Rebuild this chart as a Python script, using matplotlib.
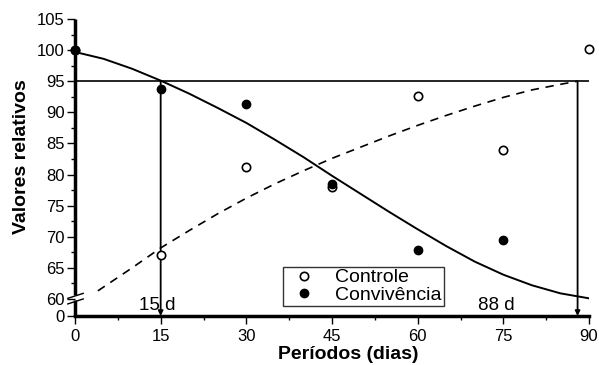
import numpy as np
import matplotlib.pyplot as plt

plt.rcParams['font.family'] = ['Liberation Sans', 'DejaVu Sans']

# observed points
dias = [0, 15, 30, 45, 60, 75, 90]
controle = [100, 67.0, 81.2, 78.0, 92.6, 84.0, 100.2]
dias_conv = [0, 15, 30, 45, 60, 75]
convivencia = [100, 93.7, 91.3, 78.4, 67.9, 69.4]

# fitted curves
x_conv = [0, 5, 10, 15, 20, 25, 30, 35, 40, 45, 50, 55, 60, 65, 70, 75, 80, 85, 90]
fit_conv = [99.7, 98.6, 97.0, 95.1, 93.0, 90.7, 88.3, 85.6, 82.8, 79.8, 76.9,
            74.0, 71.2, 68.5, 66.0, 63.9, 62.2, 60.9, 60.1]
x_ctrl = [4, 10, 15, 20, 25, 30, 35, 40, 45, 50, 55, 60, 65, 70, 75, 80, 85, 88]
fit_ctrl = [61.3, 65.0, 68.2, 71.0, 73.7, 76.2, 78.5, 80.6, 82.6, 84.4, 86.2,
            87.9, 89.5, 91.0, 92.4, 93.6, 94.5, 95.0]

limiar = 95
dias_limiar = [15, 88]
rot_limiar = ['15 d', '88 d']

ybot = 57.26

fig = plt.figure(figsize=(5.99, 3.65), dpi=100)
ax = fig.add_axes([75/599, 49/365, 514/599, 297/365])

ax.plot(x_conv, fit_conv, color='black', lw=1.4)
ax.plot(x_ctrl, fit_ctrl, color='black', lw=1.2, dashes=(5, 4))
ax.plot([0, 90], [limiar, limiar], color='black', lw=1.2)
for d in dias_limiar:
    ax.annotate('', xy=(d, ybot), xytext=(d, limiar),
                arrowprops=dict(arrowstyle='-|>', color='black', lw=1.3,
                                mutation_scale=7, shrinkA=0, shrinkB=0))

ax.plot(dias, controle, 'o', mfc='white', mec='black', mew=1.2, ms=6,
        ls='none', label='Controle', clip_on=False, zorder=5)
ax.plot(dias_conv, convivencia, 'o', color='black', ms=6, ls='none',
        label='Convivência', clip_on=False, zorder=6)

ax.text(11.2, 58.2, rot_limiar[0], fontsize=13.5)
ax.text(70.5, 58.2, rot_limiar[1], fontsize=13.5)

ax.set_xlim(0, 90)
ax.set_ylim(ybot, 105)
ax.set_xticks([0, 15, 30, 45, 60, 75, 90])
ax.set_xticks(np.arange(7.5, 90, 15), minor=True)
yt = [ybot] + list(range(60, 106, 5))
ax.set_yticks(yt)
ax.set_yticklabels(['0'] + [str(v) for v in range(60, 106, 5)])
ax.set_yticks(np.arange(62.5, 105, 5), minor=True)
ax.tick_params(which='major', length=5.5, width=1, labelsize=12)
ax.tick_params(axis='y', pad=2)
ax.tick_params(axis='x', pad=4)
ax.tick_params(which='minor', length=3, width=1)

for s in ['top', 'right', 'left']:
    ax.spines[s].set_visible(False)
ax.spines['bottom'].set_linewidth(2.5)

# left spine with break
tr = ax.get_yaxis_transform()
ax.plot([0, 0], [ybot, 59.8], color='black', lw=2.5, transform=tr, clip_on=False, solid_capstyle='butt')
ax.plot([0, 0], [60.7, 105], color='black', lw=2.5, transform=tr, clip_on=False, solid_capstyle='butt')
for y0 in [59.2, 60.1]:
    ax.plot([-0.014, 0.016], [y0, y0 + 0.8], color='black', lw=1, transform=tr, clip_on=False)

ax.set_xlabel('Períodos (dias)', fontsize=14, fontweight='bold')
ax.xaxis.set_label_coords((348 - 75) / 514, (316 - 346) / 297)
ax.set_ylabel('Valores relativos', fontsize=14, fontweight='bold')
ax.yaxis.set_label_coords((30 - 75) / 514, (316 - 157) / 297)

leg = ax.legend(loc='lower left', bbox_to_anchor=(208/514, 10/297), fontsize=14,
                frameon=True, fancybox=False, edgecolor='black', borderpad=0.1,
                handletextpad=0.6, labelspacing=0.0, handlelength=2.0,
                borderaxespad=0)
leg.get_frame().set_linewidth(1)

fig.savefig('out.png', dpi=100)
